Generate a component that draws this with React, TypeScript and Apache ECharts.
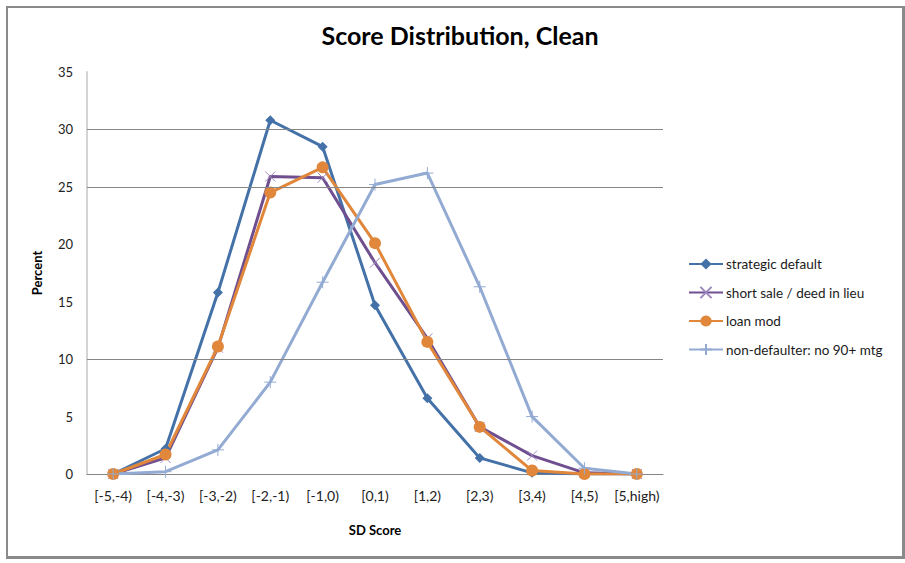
import React, { useEffect, useRef } from "react";
import * as echarts from "echarts";

const categories = ["[-5,-4)", "[-4,-3)", "[-3,-2)", "[-2,-1)", "[-1,0)", "[0,1)", "[1,2)", "[2,3)", "[3,4)", "[4,5)", "[5,high)"];
const strategicDefault = [0, 2.2, 15.8, 30.8, 28.5, 14.7, 6.6, 1.4, 0.1, 0.0, 0.0];
const shortSale = [0, 1.4, 11.0, 25.9, 25.8, 18.4, 11.8, 4.1, 1.6, 0.1, 0.0];
const loanMod = [0, 1.7, 11.1, 24.5, 26.7, 20.1, 11.5, 4.1, 0.3, 0.0, 0.0];
const nonDefaulter = [0, 0.2, 2.1, 8.0, 16.7, 25.2, 26.2, 16.3, 5.0, 0.5, 0.0];
const seriesNames = ["strategic default", "short sale / deed in lieu", "loan mod", "non-defaulter: no 90+ mtg"];
const gridLevels = [10, 25, 30];

const FONT = "Lato, 'Open Sans', sans-serif";
const CROSS = "path://M0,0 L10,10 M10,0 L0,10";
const PLUS = "path://M5,0 L5,10 M0,5 L10,5";

export default function App() {
  const ref = useRef<HTMLDivElement>(null);

  useEffect(() => {
    if (!ref.current) return;
    const chart = echarts.init(ref.current, undefined, { renderer: "svg" });
    chart.setOption({
      animation: false,
      backgroundColor: "#ffffff",
      title: {
        text: "Score Distribution, Clean",
        left: 455,
        textAlign: "center",
        top: 17,
        textStyle: { fontFamily: FONT, fontWeight: "bold", fontSize: 25, color: "#000" },
      },
      grid: { left: 87, right: 242, top: 72, bottom: 89 },
      legend: {
        orient: "vertical",
        left: 683,
        top: 252,
        itemWidth: 34,
        itemHeight: 14,
        itemGap: 14.5,
        data: seriesNames,
        textStyle: { fontFamily: FONT, fontSize: 13.5, color: "#1a1a1a", padding: [0, 0, 0, -2] },
      },
      xAxis: {
        type: "category",
        data: categories,
        boundaryGap: true,
        name: "SD Score",
        nameLocation: "middle",
        nameGap: 49,
        nameTextStyle: { fontFamily: FONT, fontWeight: "bold", fontSize: 13, color: "#000" },
        axisLine: { lineStyle: { color: "#868686", width: 1 } },
        axisTick: { show: false },
        axisLabel: { fontFamily: FONT, fontSize: 14, color: "#222", margin: 14, interval: 0 },
      },
      yAxis: {
        type: "value",
        min: 0,
        max: 35,
        interval: 5,
        name: "Percent",
        nameLocation: "middle",
        nameGap: 44,
        nameRotate: 90,
        nameTextStyle: { fontFamily: FONT, fontWeight: "bold", fontSize: 13, color: "#000" },
        axisLine: { show: true, lineStyle: { color: "#d4d4d4", width: 2 } },
        axisTick: { show: false },
        splitLine: { show: false },
        axisLabel: { fontFamily: FONT, fontSize: 13, color: "#222", margin: 14 },
      },
      series: [
        {
          name: "gridlines",
          type: "line",
          data: [],
          z: 1,
          markLine: {
            silent: true,
            symbol: "none",
            label: { show: false },
            lineStyle: { color: "#868686", width: 1, type: "solid" },
            data: gridLevels.map((v) => ({ yAxis: v })),
          },
        },
        {
          name: seriesNames[0],
          type: "line",
          data: strategicDefault,
          symbol: "diamond",
          symbolSize: 10,
          lineStyle: { color: "#4472a8", width: 3 },
          itemStyle: { color: "#4472a8", borderColor: "#4472a8", borderWidth: 0 },
        },
        {
          name: seriesNames[1],
          type: "line",
          data: shortSale,
          symbol: CROSS,
          symbolSize: 10,
          lineStyle: { color: "#6f4f8f", width: 3 },
          itemStyle: { color: "#9c88bd", borderColor: "#9c88bd", borderWidth: 1 },
        },
        {
          name: seriesNames[2],
          type: "line",
          data: loanMod,
          symbol: "circle",
          symbolSize: 12,
          lineStyle: { color: "#e0873b", width: 3 },
          itemStyle: { color: "#e0873b", borderColor: "#e0873b", borderWidth: 0 },
        },
        {
          name: seriesNames[3],
          type: "line",
          data: nonDefaulter,
          symbol: PLUS,
          symbolSize: 12,
          lineStyle: { color: "#93abd3", width: 3 },
          itemStyle: { color: "#93abd3", borderColor: "#93abd3", borderWidth: 1 },
        },
      ],
    });
    return () => chart.dispose();
  }, []);

  return (
    <div style={{ position: "absolute", left: 0, top: 0, width: 905, height: 563, background: "#fff" }}>
      <div ref={ref} style={{ position: "absolute", left: 0, top: 0, width: 905, height: 563 }} />
      <div
        style={{
          position: "absolute",
          left: 6,
          top: 6,
          width: 894,
          height: 548,
          border: "2px solid #8a8a8a",
          borderRightWidth: 3,
          borderBottomWidth: 3,
          pointerEvents: "none",
        }}
      />
    </div>
  );
}
